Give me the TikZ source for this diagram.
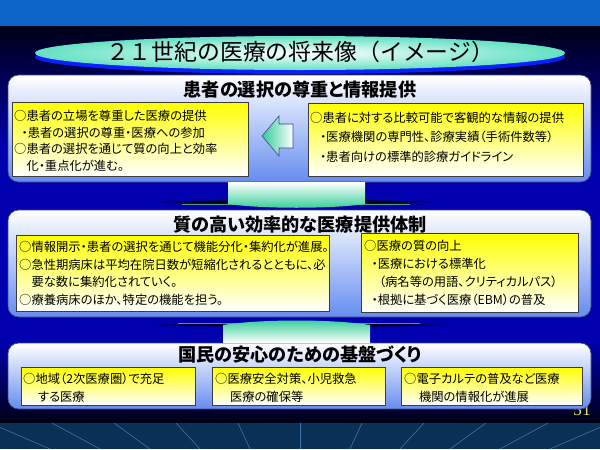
\documentclass[tikz,border=0pt]{standalone}
\usepackage{fontspec}
\setmainfont{Liberation Serif}
\newfontfamily\jp[RawFeature=+palt]{Noto Sans CJK JP}
\newfontfamily\jpwide{Noto Sans CJK JP}
\usetikzlibrary{positioning}

\definecolor{bandblue}{RGB}{12,100,200}
\definecolor{deepblue}{RGB}{0,0,175}
\definecolor{nightblue}{RGB}{0,0,22}
\definecolor{floorblue}{RGB}{10,48,86}
\definecolor{floorline}{RGB}{60,118,170}
\definecolor{mint}{RGB}{50,205,150}
\definecolor{aqua}{RGB}{100,225,195}
\definecolor{shadowblue}{RGB}{10,30,255}
\definecolor{paleblue}{RGB}{100,140,240}
\definecolor{panelline}{RGB}{60,70,130}
\definecolor{boxyellow}{RGB}{255,255,0}
\definecolor{boxline}{RGB}{60,60,60}
\definecolor{wingteal}{RGB}{80,150,140}
\definecolor{pageyellow}{RGB}{225,225,90}

\begin{document}
\begin{tikzpicture}[x=0.03cm, y=-0.03cm,
    panel/.style={draw=panelline, line width=0.6pt, rounded corners=9pt, top color=white, bottom color=paleblue},
    ybox/.style={draw=boxline, line width=0.8pt, top color=boxyellow, bottom color=white},
    boxtext/.style={anchor=north west, align=left, inner sep=0pt, font=\jp\fontsize{10.5}{#1}\selectfont},
    boxtext/.default=14.5,
    headtext/.style={font=\jp\bfseries\fontsize{15.5}{18}\selectfont}]
    \useasboundingbox (0,0) rectangle (600,449);

    % background
    \fill[bandblue] (0,0) rectangle (600,26);
    \shade[top color=nightblue, bottom color=deepblue] (0,26) rectangle (600,150);
    \fill[deepblue] (0,150) rectangle (600,340);
    \shade[top color=deepblue, bottom color=nightblue] (0,340) rectangle (600,423);
    \fill[floorblue] (0,423) rectangle (600,449);
    \foreach \k in {-6,...,6}
        \draw[floorline, line width=0.5pt] ({300+62*\k},423) -- ({300+50*\k},449);

    % title
    \fill[shadowblue] (300,57) ellipse (265 and 17);
    \shade[inner color=white, outer color=aqua] (300,53) ellipse (265 and 17);
    \node[font=\jpwide\fontsize{19.5}{21}\selectfont] (title) at (300,52) {２１世紀の医療の将来像（イメージ）};

    \node[text=pageyellow, font=\fontsize{15}{16}\selectfont] (page) at (582,410) {51};

    % panels
    \draw[panel] (8,75) rectangle (591,182);
    \draw[panel] (8,210) rectangle (591,317);
    \draw[panel] (8,343) rectangle (591,409);

    \node[headtext] (head1) at (300,90) {患者の選択の尊重と情報提供};
    \node[headtext] (head2) at (300,225) {質の高い効率的な医療提供体制};
    \node[headtext] (head3) at (300,355) {国民の安心のための基盤づくり};

    % boxes
    \draw[ybox] (12,102) rectangle (248,176);
    \draw[ybox] (308,103) rectangle (583,176);
    \draw[ybox] (16,235) rectangle (329,311);
    \draw[ybox] (361,233) rectangle (578,312);
    \draw[ybox] (21,367) rectangle (195,405);
    \draw[ybox] (212,367) rectangle (385,405);
    \draw[ybox] (401,367) rectangle (582,405);

    \node[boxtext=14.2] (choice) at (14,110)
        {○患者の立場を尊重した医療の提供\\
         \hspace*{0.6em}・患者の選択の尊重・医療への参加\\
         ○患者の選択を通じて質の向上と効率\\
         \hspace*{1em}化・重点化が進む。};
    \node[boxtext=16.5] (info) at (310,112)
        {○患者に対する比較可能で客観的な情報の提供\\
         \hspace*{0.8em}・医療機関の専門性、診療実績（手術件数等）\\
         \hspace*{0.8em}・患者向けの標準的診療ガイドライン};
    \node[boxtext=15] (system) at (19,241)
        {○情報開示・患者の選択を通じて機能分化・集約化が進展。\\
         ○急性期病床は平均在院日数が短縮化されるとともに、必\\
         \hspace*{1em}要な数に集約化されていく。\\
         ○療養病床のほか、特定の機能を担う。};
    \node[boxtext=15.3] (quality) at (364,240)
        {○医療の質の向上\\
         \hspace*{0.6em}・医療における標準化\\
         \hspace*{1.2em}（病名等の用語、クリティカルパス）\\
         \hspace*{0.6em}・根拠に基づく医療（EBM）の普及};
    \node[boxtext=15.3] (region) at (23,373)
        {○地域（2次医療圏）で充足\\
         \hspace*{1.2em}する医療};
    \node[boxtext=15.3] (safety) at (215,373)
        {○医療安全対策、小児救急\\
         \hspace*{1.2em}医療の確保等};
    \node[boxtext=15.3] (karte) at (404,373)
        {○電子カルテの普及など医療\\
         \hspace*{1.2em}機関の情報化が進展};

    % arrow between the boxes of the first panel
    \draw[panelline, line width=0.5pt, left color=mint, right color=white]
        (262,136) -- (279,116) -- (279,124) -- (293,124) -- (293,148) -- (279,148) -- (279,156) -- cycle;

    % connectors between panels
    \fill[nightblue] (155,202) .. controls (250,199) and (350,199) .. (435,202)
        .. controls (350,204.5) and (250,204.5) .. cycle;
    \draw[wingteal, line width=0.7pt] (182,204) -- (410,204);
    \shade[top color=white, bottom color=mint] (228,182) -- (365,182) -- (365,204)
        .. controls (330,209) and (263,209) .. (228,204) -- cycle;

    \fill[nightblue] (152,325) .. controls (250,322.5) and (350,322.5) .. (445,325)
        .. controls (350,327.5) and (250,327.5) .. cycle;
    \draw[wingteal, line width=0.7pt] (178,323) -- (420,323);
    \shade[top color=mint, bottom color=white] (223,343) -- (223,325)
        .. controls (260,319) and (333,319) .. (370,325) -- (370,343) -- cycle;
\end{tikzpicture}
\end{document}
